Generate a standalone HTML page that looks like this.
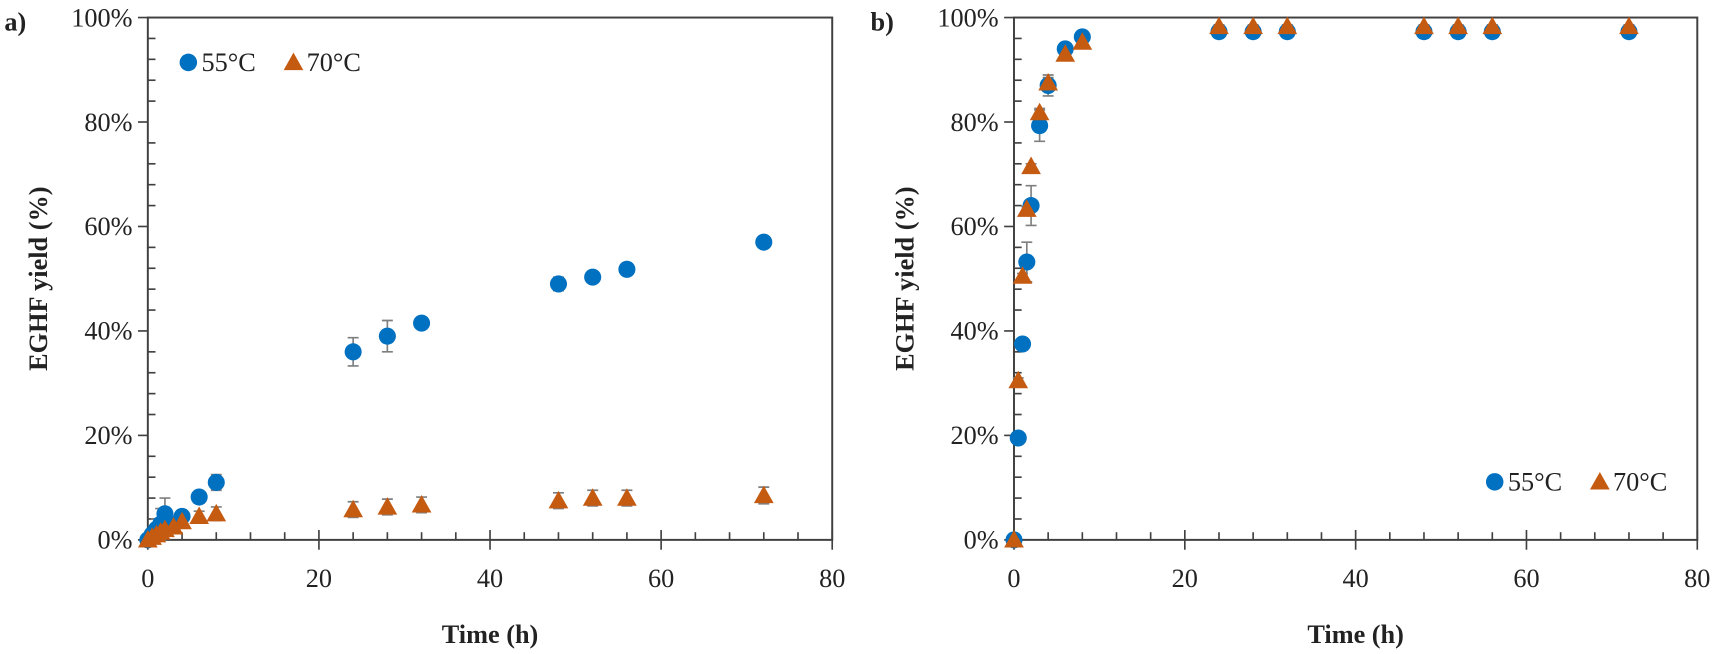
<!DOCTYPE html>
<html><head><meta charset="utf-8"><style>
body{margin:0;background:#fff}
svg{display:block;font-family:"Liberation Serif",serif}
</style></head><body>
<svg id="c" width="1717" height="654" viewBox="0 0 1568 597.2"></svg>
<script>
const times=[0,0.5,1,1.5,2,3,4,6,8,24,28,32,48,52,56,72];
const aYield55=[0,1,2,3,5,3,4.5,8.2,11,36,39,41.5,49,50.3,51.8,57];
const aErr55=[0,1,2,3,3,1,1,1,1.5,2.7,3,0.6,1.3,0.6,0.6,0.6];
const aYield70=[0,0.5,1,1.5,2,2.5,3.5,4.5,5,5.8,6.3,6.7,7.5,8,8,8.5];
const aErr70=[0.5,0.8,1,1,1.2,1,1,1,1.3,1.5,1.5,1.5,1.5,1.5,1.5,1.6];
const bYield55=[0,19.5,37.5,53.2,64,79.3,87,94,96.3,97.3,97.3,97.3,97.3,97.3,97.3,97.3];
const bErr55=[0,0.5,0.8,3.8,3.8,3,2,0.8,0.5,0.3,0.3,0.3,0.3,0.3,0.3,0.3];
const bYield70=[0,30.5,50.5,63.3,71.5,81.8,87.5,93,95.3,98.3,98.3,98.3,98.3,98.3,98.3,98.3];
const bErr70=[0,0.5,0.5,0.5,0.5,0.8,1,0.6,0.6,0.3,0.3,0.3,0.3,0.3,0.3,0.3];
const xTicks=[0,20,40,60,80];
const yTicks=[0,20,40,60,80,100];
const NS="http://www.w3.org/2000/svg";
const svg=document.getElementById('c');
function mk(tag,attrs,parent,text){const e=document.createElementNS(NS,tag);for(const k in attrs)e.setAttribute(k,attrs[k]);if(text!==undefined)e.textContent=text;(parent||svg).appendChild(e);return e;}
const BLUE="#0070c0",ORANGE="#c55a11";
function panel(id,x0,x1,label,y55,e55,y70,e70,leg){
  const yb=493,yt=16;
  const X=v=>x0+(x1-x0)*v/80, Y=v=>yb-(yb-yt)*v/100;
  const g=mk('g',{});
  
  
  const ax=mk('rect',{x:x0,y:yt,width:x1-x0,height:yb-yt,stroke:'#404040','stroke-width':1.8,fill:'none'},g);
  
  for(let v=0;v<=100;v+=4){const y=Y(v);const major=v%20===0;mk('line',{x1:major?x0-9:x0,x2:x0+(major?0:7),y1:y,y2:y,stroke:'#404040','stroke-width':1.5},g);}
  for(let v=0;v<=80;v+=4){const x=X(v);const major=v%20===0;mk('line',{x1:x,x2:x,y1:major?yb+9:yb,y2:yb-(major?9:7),stroke:'#404040','stroke-width':1.5},g);}
  yTicks.forEach(v=>{const t=mk('text',{x:x0-14,y:Y(v)+8,'text-anchor':'end','font-size':24,fill:'#222'},g,v+'%');});
  xTicks.forEach(v=>{const t=mk('text',{x:X(v),y:yb+43,'text-anchor':'middle','font-size':24,fill:'#222'},g,v);});
  const xt=mk('text',{x:(x0+x1)/2,y:587,'text-anchor':'middle','font-size':24,'font-weight':'bold',fill:'#222'},g,'Time (h)');
  
  const yl=mk('text',{transform:`translate(${x0-92},${(yt+yb)/2}) rotate(-90)`,'text-anchor':'middle','font-size':24,'font-weight':'bold',fill:'#222'},g,'EGHF yield (%)');
  
  const pl=mk('text',{x:x0-131,y:28,'font-size':24,'font-weight':'bold',fill:'#222'},g,label);
  
  function err(x,y,e){if(e<=0.2)return;const a=Y(y+e),b=Y(Math.max(0,y-e));mk('path',{d:`M${x},${a}V${b}M${x-5},${a}H${x+5}M${x-5},${b}H${x+5}`,stroke:'#7f7f7f','stroke-width':1.5,fill:'none'},g);}
  times.forEach((t,i)=>err(X(t),y70[i],e70[i]));
  times.forEach((t,i)=>err(X(t),y55[i],e55[i]));
  times.forEach((t,i)=>{const c=mk('circle',{cx:X(t),cy:Y(y55[i]),r:7.8,fill:BLUE},g);});
  times.forEach((t,i)=>{const x=X(t),y=Y(y70[i]);const p=mk('path',{d:`M${x},${y-9}L${x+9},${y+7}L${x-9},${y+7}Z`,fill:ORANGE},g);});
  const lg=mk('g',{},g);
  const [lx,ly]=leg;
  mk('circle',{cx:lx,cy:ly,r:8,fill:BLUE},lg);
  mk('text',{x:lx+12,y:ly+8,'font-size':24,fill:'#222'},lg,'55°C');
  mk('path',{d:`M${lx+96},${ly-9}L${lx+105},${ly+7}L${lx+87},${ly+7}Z`,fill:ORANGE},lg);
  mk('text',{x:lx+108,y:ly+8,'font-size':24,fill:'#222'},lg,'70°C');
}
panel('a',135,760,'a)',aYield55,aErr55,aYield70,aErr70,[172,57]);
panel('b',926,1550,'b)',bYield55,bErr55,bYield70,bErr70,[1365,440]);
</script>
</body></html>
